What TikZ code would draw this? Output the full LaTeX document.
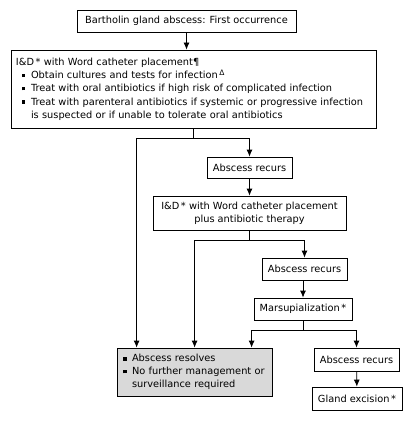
\documentclass[tikz,border=0pt]{standalone}
\usepackage{fontspec}
\setmainfont{DejaVu Sans}
\usetikzlibrary{arrows.meta}
\definecolor{resgray}{HTML}{D9D9D9}
\newcommand{\bul}{\makebox[9pt][l]{\raisebox{1.4pt}{\rule{3.5pt}{3.5pt}}}}
\newcommand{\mystar}{\,*}
\newcommand{\mydelta}{\,\raisebox{3.2pt}{\fontsize{7.5}{7.5}\selectfont Δ}}
\begin{document}
\begin{tikzpicture}[x=1pt,y=-1pt,
  every node/.style={font=\fontsize{9.8}{12.8}\selectfont},
  box/.style={draw=black,line width=0.8pt,inner sep=0pt,align=center},
  lbox/.style={draw=black,line width=0.8pt,inner xsep=5pt,inner ysep=0pt,align=left},
  arr/.style={line width=0.8pt,-{Latex[width=6pt,length=7pt]}},
  ln/.style={line width=0.8pt}]
\useasboundingbox (0,0) rectangle (412,422);
\node[box,minimum width=219pt,minimum height=22pt] (b1) at (186.5,21) {Bartholin gland abscess: First occurrence};
\node[lbox,text width=355pt,minimum height=78pt,font=\fontsize{9.8}{13.3}\selectfont] (b2) at (193.5,89) {I\&D\mystar{} with Word catheter placement¶\\
\hspace*{6pt}\bul Obtain cultures and tests for infection\mydelta\\
\hspace*{6pt}\bul Treat with oral antibiotics if high risk of complicated infection\\
\hspace*{6pt}\bul Treat with parenteral antibiotics if systemic or progressive infection\\
\hspace*{15pt}is suspected or if unable to tolerate oral antibiotics};
\node[box,minimum width=85pt,minimum height=21pt] (r1) at (249.5,167.5) {Abscess recurs};
\node[box,minimum width=193pt,minimum height=34pt] (id2) at (249.5,213) {I\&D\mystar{} with Word catheter placement\\plus antibiotic therapy};
\node[box,minimum width=85pt,minimum height=22pt] (r2) at (304.5,269) {Abscess recurs};
\node[box,minimum width=98pt,minimum height=22pt] (mar) at (303,309) {Marsupialization\mystar};
\node[lbox,fill=resgray,inner xsep=6pt,text width=143pt,minimum height=48pt] (res) at (194.5,372) {\bul Abscess resolves\\
\bul No further management or\\\hspace*{9pt}surveillance required};
\node[box,minimum width=85pt,minimum height=23pt] (r3) at (356.5,359.5) {Abscess recurs};
\node[box,minimum width=90pt,minimum height=23pt] (ge) at (357,398.5) {Gland excision\mystar};
\coordinate (j1) at (193.5,138);
\coordinate (j2) at (249.5,240);
\coordinate (j3) at (303,330);
\draw[arr] (b1.south) -- (b1.south |- b2.north);
\draw[ln] (b2.south) -- (j1);
\draw[arr] (j1) -| (r1.north);
\draw[arr] (j1) -| ([xshift=20pt]res.north west);
\draw[arr] (r1) -- (id2);
\draw[ln] (id2.south) -- (j2);
\draw[arr] (j2) -| (r2.north);
\draw[arr] (j2) -| ([xshift=78pt]res.north west);
\draw[arr] (r2.south -| mar.north) -- (mar.north);
\draw[ln] (mar.south) -- (j3);
\draw[arr] (j3) -| ([xshift=135pt]res.north west);
\draw[arr] (j3) -| (r3.north);
\draw[arr] (r3) -- (ge);
\end{tikzpicture}
\end{document}
